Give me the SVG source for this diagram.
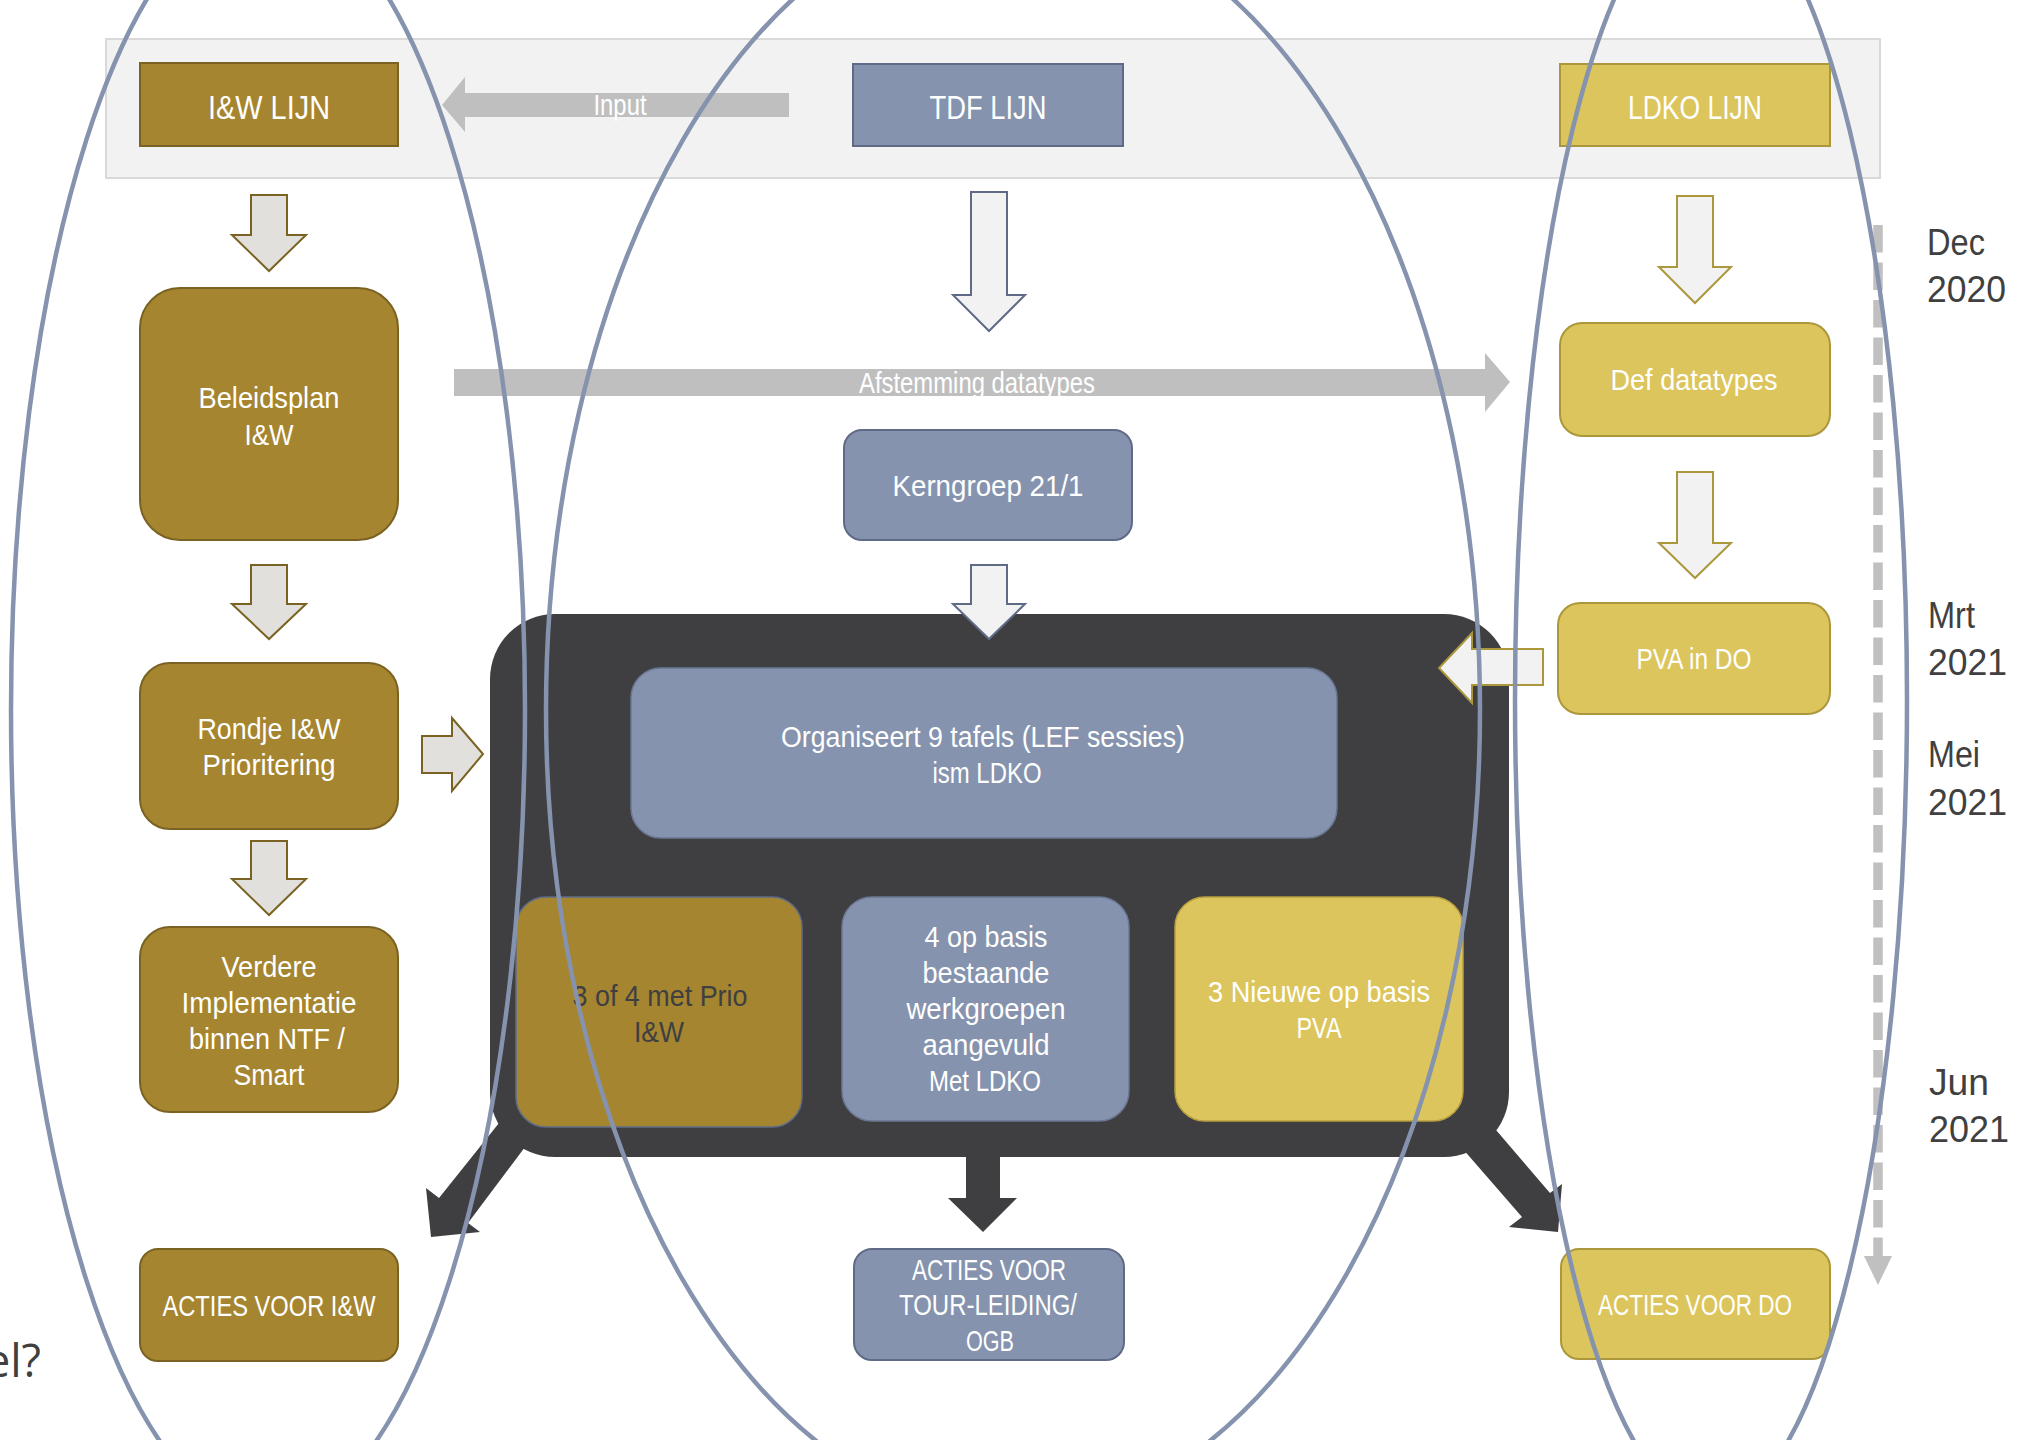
<svg xmlns="http://www.w3.org/2000/svg" width="2037" height="1440" viewBox="0 0 2037 1440">
<style>
  .t { font-family: 'Liberation Sans', Arial, sans-serif; text-anchor: middle; fill: #ffffff; font-size: 29px; }
  .big { font-size: 34px; }
  .dark { fill: #3f3f42; }
  .date { font-family: 'Liberation Sans', Arial, sans-serif; font-size: 37px; fill: #404040; }
  .gold { fill: #a5852f; stroke: #7a6322; stroke-width: 2; }
  .slate { fill: #8593ae; stroke: #5f6b86; stroke-width: 2; }
  .yel { fill: #dcc55c; stroke: #ab973c; stroke-width: 2; }
  .arrG { fill: #e1e0dc; stroke: #7a6322; stroke-width: 2; }
  .arrS { fill: #f2f2f2; stroke: #5f6b86; stroke-width: 2; }
  .arrY { fill: #f2f2f2; stroke: #ab973c; stroke-width: 2; }
  .flow { fill: #bfbfbf; }
  .blk { fill: #3f3f42; }
  .ell { fill: none; stroke: #8593ae; stroke-width: 4.5; }
</style>

<!-- header band -->
<rect id="band" x="106" y="39" width="1774" height="139" fill="#f2f2f2" stroke="#d9d9d9" stroke-width="2"/>

<g id="connectors">
  <!-- Input arrow -->
  <polygon class="flow" points="789,93 465,93 465,77 442,105 465,132 465,117 789,117"/>
  <text class="t" x="620" y="115" font-size="25" textLength="53" lengthAdjust="spacingAndGlyphs">Input</text>
  <!-- Afstemming datatypes arrow -->
  <polygon class="flow" points="454,369 1485,369 1485,353 1510,382 1485,412 1485,396 454,396"/>
  <text class="t" x="977" y="393" font-size="27" textLength="236" lengthAdjust="spacingAndGlyphs">Afstemming datatypes</text>

  <!-- left column arrows -->
  <polygon class="arrG" points="251,195 287,195 287,235 306,235 269,271 232,235 251,235"/>
  <polygon class="arrG" points="251,565 287,565 287,604 306,604 269,639 232,604 251,604"/>
  <polygon class="arrG" points="251,841 287,841 287,879 306,879 269,915 232,879 251,879"/>
  <polygon class="arrG" points="422,736 452,736 452,718 483,754 452,791 452,773 422,773"/>

  <!-- middle column arrows -->
  <polygon class="arrS" points="971,192 1007,192 1007,295 1025,295 989,331 953,295 971,295"/>

  <!-- right column arrows -->
  <polygon class="arrY" points="1677,196 1713,196 1713,267 1731,267 1695,303 1659,267 1677,267"/>
  <polygon class="arrY" points="1677,472 1713,472 1713,543 1731,543 1695,578 1659,543 1677,543"/>
</g>

<!-- top line boxes -->
<g id="iw-lijn">
  <rect class="gold" x="140" y="63" width="258" height="83"/>
  <text class="t big" x="269" y="119" textLength="122" lengthAdjust="spacingAndGlyphs">I&amp;W LIJN</text>
</g>
<g id="tdf-lijn">
  <rect class="slate" x="853" y="64" width="270" height="82"/>
  <text class="t big" x="988" y="119" textLength="117" lengthAdjust="spacingAndGlyphs">TDF LIJN</text>
</g>
<g id="ldko-lijn">
  <rect class="yel" x="1560" y="64" width="270" height="82"/>
  <text class="t big" x="1695" y="119" textLength="134" lengthAdjust="spacingAndGlyphs">LDKO LIJN</text>
</g>

<!-- left column -->
<g id="beleidsplan">
  <rect class="gold" x="140" y="288" width="258" height="252" rx="40" ry="40"/>
  <text class="t" x="269" y="408" textLength="141" lengthAdjust="spacingAndGlyphs">Beleidsplan</text>
  <text class="t" x="269" y="445" textLength="49" lengthAdjust="spacingAndGlyphs">I&amp;W</text>
</g>
<g id="rondje">
  <rect class="gold" x="140" y="663" width="258" height="166" rx="30" ry="30"/>
  <text class="t" x="269" y="739" textLength="143" lengthAdjust="spacingAndGlyphs">Rondje I&amp;W</text>
  <text class="t" x="269" y="775" textLength="133" lengthAdjust="spacingAndGlyphs">Prioritering</text>
</g>
<g id="verdere">
  <rect class="gold" x="140" y="927" width="258" height="185" rx="30" ry="30"/>
  <text class="t" x="269" y="977" textLength="95" lengthAdjust="spacingAndGlyphs">Verdere</text>
  <text class="t" x="269" y="1013" textLength="175" lengthAdjust="spacingAndGlyphs">Implementatie</text>
  <text class="t" x="267" y="1049" textLength="156" lengthAdjust="spacingAndGlyphs">binnen NTF /</text>
  <text class="t" x="269" y="1085" textLength="71" lengthAdjust="spacingAndGlyphs">Smart</text>
</g>
<g id="acties-iw">
  <rect class="gold" x="140" y="1249" width="258" height="112" rx="18" ry="18"/>
  <text class="t" x="269" y="1316" textLength="213" lengthAdjust="spacingAndGlyphs">ACTIES VOOR I&amp;W</text>
</g>

<!-- middle column -->
<g id="kerngroep">
  <rect class="slate" x="844" y="430" width="288" height="110" rx="18" ry="18"/>
  <text class="t" x="988" y="496" textLength="191" lengthAdjust="spacingAndGlyphs">Kerngroep 21/1</text>
</g>

<g id="output-arrows">
  <polygon class="blk" points="527,1088 552,1113 528,1143 468,1223 480,1232 431,1237 426,1188 439,1198 503,1118"/>
  <polygon class="blk" points="966,1140 1000,1140 1000,1198 1017,1198 983,1232 948,1198 966,1198"/>
  <polygon class="blk" points="1470,1100 1490,1123 1550,1193 1562,1184 1558,1232 1509,1227 1522,1217 1462,1148 1442,1125"/>
</g>

<g id="lef-sessies">
  <rect class="blk" x="490" y="614" width="1019" height="543" rx="65" ry="65"/>
</g>

<g id="tdf-arrow-2">
  <polygon class="arrS" points="971,565 1007,565 1007,604 1025,604 989,639 953,604 971,604"/>
</g>

<g id="organiseert">
  <rect x="631" y="668" width="706" height="170" rx="30" ry="30" fill="#8593ae" stroke="#6b7893" stroke-width="1.5"/>
  <text class="t" x="983" y="747" textLength="404" lengthAdjust="spacingAndGlyphs">Organiseert 9 tafels (LEF sessies)</text>
  <text class="t" x="987" y="783" textLength="109" lengthAdjust="spacingAndGlyphs">ism LDKO</text>
</g>
<g id="prio-iw">
  <rect x="516" y="897" width="286" height="230" rx="30" ry="30" fill="#a5852f" stroke="#5f6d88" stroke-width="1.5"/>
  <text class="t dark" x="660" y="1006" textLength="175" lengthAdjust="spacingAndGlyphs">3 of 4 met Prio</text>
  <text class="t dark" x="659" y="1042" textLength="50" lengthAdjust="spacingAndGlyphs">I&amp;W</text>
</g>
<g id="werkgroepen">
  <rect x="842" y="897" width="287" height="224" rx="30" ry="30" fill="#8593ae" stroke="#6b7893" stroke-width="1.5"/>
  <text class="t" x="986" y="947" textLength="123" lengthAdjust="spacingAndGlyphs">4 op basis</text>
  <text class="t" x="986" y="983" textLength="127" lengthAdjust="spacingAndGlyphs">bestaande</text>
  <text class="t" x="986" y="1019" textLength="159" lengthAdjust="spacingAndGlyphs">werkgroepen</text>
  <text class="t" x="986" y="1055" textLength="127" lengthAdjust="spacingAndGlyphs">aangevuld</text>
  <text class="t" x="985" y="1091" textLength="112" lengthAdjust="spacingAndGlyphs">Met LDKO</text>
</g>
<g id="nieuwe-pva">
  <rect x="1175" y="897" width="288" height="224" rx="30" ry="30" fill="#dcc55c" stroke="#b8a040" stroke-width="1.5"/>
  <text class="t" x="1319" y="1002" textLength="222" lengthAdjust="spacingAndGlyphs">3 Nieuwe op basis</text>
  <text class="t" x="1319" y="1038" textLength="45" lengthAdjust="spacingAndGlyphs">PVA</text>
</g>

<g id="acties-tour">
  <rect class="slate" x="854" y="1249" width="270" height="111" rx="18" ry="18"/>
  <text class="t" x="989" y="1280" textLength="154" lengthAdjust="spacingAndGlyphs">ACTIES VOOR</text>
  <text class="t" x="988" y="1315" textLength="178" lengthAdjust="spacingAndGlyphs">TOUR-LEIDING/</text>
  <text class="t" x="990" y="1351" textLength="48" lengthAdjust="spacingAndGlyphs">OGB</text>
</g>

<!-- right column -->
<g id="def-datatypes">
  <rect class="yel" x="1560" y="323" width="270" height="113" rx="22" ry="22"/>
  <text class="t" x="1694" y="390" textLength="167" lengthAdjust="spacingAndGlyphs">Def datatypes</text>
</g>
<g id="pva-do">
  <rect class="yel" x="1558" y="603" width="272" height="111" rx="22" ry="22"/>
  <text class="t" x="1694" y="669" textLength="115" lengthAdjust="spacingAndGlyphs">PVA in DO</text>
</g>
<g id="pva-arrow">
  <polygon class="arrY" points="1543,649 1472,649 1472,633 1439,668 1472,703 1472,685 1543,685"/>
</g>
<g id="acties-do">
  <rect class="yel" x="1561" y="1249" width="269" height="110" rx="18" ry="18"/>
  <text class="t" x="1695" y="1315" textLength="194" lengthAdjust="spacingAndGlyphs">ACTIES VOOR DO</text>
</g>

<!-- timeline -->
<g id="timeline">
  <line x1="1878" y1="225" x2="1878" y2="1256" stroke="#c0c0c0" stroke-width="9.5" stroke-dasharray="27.5 10"/>
  <polygon points="1864,1256 1892,1256 1878,1285" fill="#c0c0c0"/>
  <text class="date" x="1927" y="255" textLength="58" lengthAdjust="spacingAndGlyphs">Dec</text>
  <text class="date" x="1927" y="302" textLength="79" lengthAdjust="spacingAndGlyphs">2020</text>
  <text class="date" x="1928" y="628" textLength="47" lengthAdjust="spacingAndGlyphs">Mrt</text>
  <text class="date" x="1928" y="675" textLength="79" lengthAdjust="spacingAndGlyphs">2021</text>
  <text class="date" x="1928" y="767" textLength="52" lengthAdjust="spacingAndGlyphs">Mei</text>
  <text class="date" x="1928" y="815" textLength="79" lengthAdjust="spacingAndGlyphs">2021</text>
  <text class="date" x="1929" y="1095" textLength="60" lengthAdjust="spacingAndGlyphs">Jun</text>
  <text class="date" x="1929" y="1142" textLength="80" lengthAdjust="spacingAndGlyphs">2021</text>
</g>

<text x="41" y="1377" font-family="'Open Sans', 'Liberation Sans', sans-serif" font-size="45" fill="#404040" text-anchor="end">el?</text>

<!-- ellipses on top -->
<g id="ellipses">
  <ellipse class="ell" cx="268" cy="710" rx="257" ry="806"/>
  <ellipse class="ell" cx="1013" cy="710" rx="467" ry="806"/>
  <ellipse class="ell" cx="1711" cy="700" rx="196" ry="806"/>
</g>
</svg>
